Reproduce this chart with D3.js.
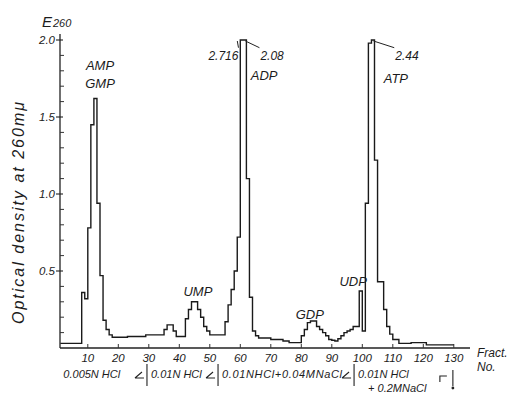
<!DOCTYPE html>
<html>
<head>
<meta charset="utf-8">
<script src="https://cdn.jsdelivr.net/npm/d3@7"></script>
<style>
  body { margin: 0; background: #fff; }
  svg text { font-family: "Liberation Sans", "DejaVu Sans", sans-serif; font-style: italic; fill: #1c1c1c; }
</style>
</head>
<body>
<svg id="chart" width="510" height="394"></svg>
<script>
// optical density (E260) of each fraction, fraction 1 .. 129
const od = [
  0.03, 0.03, 0.03, 0.03, 0.03, 0.03, 0.03, 0.36, 0.32, 0.78,      // 1-10
  1.45, 1.62, 0.94, 0.47, 0.18, 0.12, 0.085, 0.07, 0.07, 0.07,     // 11-20
  0.07, 0.07, 0.075, 0.075, 0.075, 0.075, 0.075, 0.075, 0.085, 0.085, // 21-30
  0.085, 0.085, 0.085, 0.085, 0.12, 0.15, 0.15, 0.11, 0.075, 0.075, // 31-40
  0.075, 0.19, 0.25, 0.30, 0.30, 0.25, 0.20, 0.14, 0.11, 0.085,    // 41-50
  0.085, 0.085, 0.085, 0.085, 0.17, 0.28, 0.38, 0.50, 0.72, 2.716, // 51-60
  2.08, 1.10, 0.33, 0.11, 0.08, 0.065, 0.065, 0.065, 0.065, 0.055, // 61-70
  0.055, 0.055, 0.055, 0.045, 0.045, 0.035, 0.035, 0.035, 0.035, 0.08, // 71-80
  0.12, 0.165, 0.175, 0.175, 0.14, 0.12, 0.10, 0.08, 0.055, 0.05,  // 81-90
  0.045, 0.06, 0.08, 0.10, 0.11, 0.12, 0.14, 0.14, 0.37, 0.11,     // 91-100
  0.94, 1.98, 2.44, 1.22, 0.43, 0.43, 0.25, 0.14, 0.09, 0.055,     // 101-110
  0.055, 0.03, 0.03, 0.03, 0.03, 0.035, 0.035, 0.035, 0.035, 0.035, // 111-120
  0.02, 0.02, 0.02, 0.02, 0.02, 0.02, 0.02, 0.02, 0.02             // 121-129
];

const xTicks = [10, 20, 30, 40, 50, 60, 70, 80, 90, 100, 110, 120, 130];
const yTicks = [0.5, 1.0, 1.5, 2.0];

// peak names: [text, fraction, OD]
const peakNames = [
  ["AMP", 14, 1.805], ["GMP", 14, 1.69], ["ADP", 67.8, 1.74], ["ATP", 111, 1.72],
  ["UMP", 46.1, 0.34], ["GDP", 82.8, 0.19], ["UDP", 97, 0.405]
];
// off-scale peak values: [text, fraction of the bar, label fraction, anchor]
const offScale = [
  ["2.716", 60, 59.4, "end"], ["2.08", 62, 66.6, "start"], ["2.44", 104, 110.8, "start"]
];
// eluent changes: [fraction, label line 1, label line 2]
const eluents = [
  [1, "0.005N HCl", ""],
  [29.4, "0.01N HCl", ""],
  [52.7, "0.01NHCl+0.04MNaCl", ""],
  [97.3, "0.01N HCl", "+ 0.2MNaCl"]
];
const eluentEnd = 129.7;

const svg = d3.select("#chart");
const x = d3.scaleLinear().domain([0, 130]).range([57.3, 453.8]);
const y = d3.scaleLinear().domain([0, 2.0]).range([348, 40]);
const yTop = 2.0;

// y axis
svg.append("line").attr("x1", 60).attr("x2", 60).attr("y1", 34).attr("y2", y(0))
  .attr("stroke", "#222").attr("stroke-width", 1.3);
const minor = d3.range(1, 21).map(i => i / 10).filter(v => !yTicks.some(t => Math.abs(t - v) < 1e-6));
svg.selectAll(".minor").data(minor).join("line")
  .attr("x1", 60).attr("x2", 64).attr("y1", d => y(d)).attr("y2", d => y(d))
  .attr("stroke", "#333").attr("stroke-width", 1);
svg.selectAll(".major").data(yTicks).join("line")
  .attr("x1", 56).attr("x2", 63).attr("y1", d => y(d)).attr("y2", d => y(d))
  .attr("stroke", "#222").attr("stroke-width", 1.1);
svg.selectAll(".ylab").data(yTicks).join("text")
  .attr("x", 55).attr("y", d => y(d) + 4).attr("text-anchor", "end")
  .attr("font-size", 11.5).text(d => d.toFixed(1));

svg.append("text").attr("x", 42).attr("y", 27).attr("font-size", 15).text("E");
svg.append("text").attr("x", 53).attr("y", 27).attr("font-size", 11).text("260");

svg.append("text")
  .attr("transform", "translate(24,212) rotate(-90)")
  .attr("text-anchor", "middle").attr("font-size", 16).attr("letter-spacing", 2)
  .text("Optical density at 260mμ");

// x axis
svg.append("line").attr("x1", 60).attr("x2", 470).attr("y1", y(0)).attr("y2", y(0))
  .attr("stroke", "#222").attr("stroke-width", 1.3);
svg.selectAll(".xt").data(xTicks).join("line")
  .attr("x1", d => x(d)).attr("x2", d => x(d)).attr("y1", y(0)).attr("y2", y(0) - 4)
  .attr("stroke", "#333").attr("stroke-width", 1);
svg.selectAll(".xlab").data(xTicks).join("text")
  .attr("x", d => x(d)).attr("y", 362).attr("text-anchor", "middle")
  .attr("font-size", 11.5).text(d => d);
svg.append("text").attr("x", 477).attr("y", 357).attr("font-size", 12).text("Fract.");
svg.append("text").attr("x", 477).attr("y", 371).attr("font-size", 12).text("No.");

// elution profile
const pts = od.map((v, i) => [i + 1, v]).concat([[130, od[od.length - 1]]]);
const line = d3.line().curve(d3.curveStepAfter)
  .x(d => x(d[0])).y(d => y(Math.min(d[1], yTop)));
svg.append("path").datum(pts).attr("d", line)
  .attr("fill", "none").attr("stroke", "#1a1a1a").attr("stroke-width", 1.4)
  .attr("stroke-linejoin", "miter");

// peak names
svg.selectAll(".peak").data(peakNames).join("text")
  .attr("x", d => x(d[1])).attr("y", d => y(d[2])).attr("text-anchor", "middle")
  .attr("font-size", 13).text(d => d[0]);

// off-scale values with leader lines
offScale.forEach(([t, f, lf, anchor]) => {
  const lx = x(lf);
  svg.append("text").attr("x", lx).attr("y", y(1.87)).attr("text-anchor", anchor)
    .attr("font-size", 12).text(t);
  svg.append("line")
    .attr("x1", anchor === "end" ? lx : lx - 1).attr("y1", y(1.95))
    .attr("x2", x(f) - (anchor === "end" ? 3 : 1)).attr("y2", y(yTop) + 1)
    .attr("stroke", "#222").attr("stroke-width", 1);
});

// eluent labels and change markers
const yE = 378;
eluents.forEach(([f, l1, l2], i) => {
  const cx = i === 0 ? x(f) + 3 : x(f) + 4;
  svg.append("text").attr("x", cx).attr("y", yE).attr("font-size", 11).text(l1)
    .attr("textLength", i === 2 ? 120 : null);
  if (l2) svg.append("text").attr("x", cx + 10).attr("y", yE + 14).attr("font-size", 11).text(l2);
  if (i > 0) {
    const bx = x(f);
    svg.append("path")
      .attr("d", `M${bx},${yE - 14}V${yE + 8}M${bx - 12},${yE}H${bx - 3}M${bx - 12},${yE}L${bx - 5},${yE - 6}`)
      .attr("fill", "none").attr("stroke", "#222").attr("stroke-width", 1.1);
  }
});
const ex = x(eluentEnd);
svg.append("path")
  .attr("d", `M${ex - 13},${yE + 4}V${yE - 2}H${ex - 6}M${ex},${yE - 8}V${yE + 8}`)
  .attr("fill", "none").attr("stroke", "#222").attr("stroke-width", 1.1);
svg.append("circle").attr("cx", ex).attr("cy", yE + 10).attr("r", 1.4).attr("fill", "#222");
</script>
</body>
</html>
